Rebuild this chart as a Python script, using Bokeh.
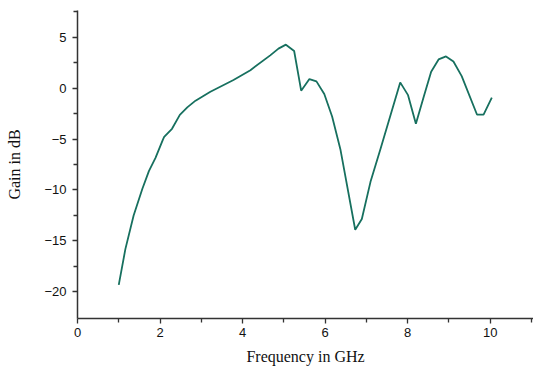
from bokeh.plotting import figure
from bokeh.models import Range1d, FixedTicker
from bokeh.embed import file_html
from bokeh.resources import INLINE

# Antenna gain versus frequency
freq_ghz = [1.00, 1.16, 1.36, 1.57, 1.73, 1.89, 2.07, 2.10, 2.29, 2.48, 2.66, 2.86,
            3.22, 3.78, 4.19, 4.67, 4.87, 5.05, 5.25, 5.42, 5.62, 5.79, 5.98, 6.17,
            6.37, 6.73, 6.89, 7.10, 7.34, 7.82, 8.01, 8.20, 8.39, 8.57, 8.75, 8.93,
            9.11, 9.31, 9.68, 9.84, 10.04]
gain_db = [-19.3, -15.8, -12.5, -9.9, -8.15, -6.85, -5.06, -4.8, -4.0, -2.63, -1.9, -1.24,
           -0.36, 0.78, 1.75, 3.2, 3.86, 4.25, 3.63, -0.26, 0.88, 0.65, -0.58, -2.8,
           -6.0, -13.9, -12.85, -9.2, -6.0, 0.55, -0.7, -3.5, -0.85, 1.6, 2.8, 3.1,
           2.6, 1.17, -2.6, -2.6, -0.94]

x_ticks = [0, 2, 4, 6, 8, 10]
x_minor = [1, 3, 5, 7, 9, 11]
y_ticks = [-20, -15, -10, -5, 0, 5]
y_minor = [-17.5, -12.5, -7.5, -2.5, 2.5, 7.5]

p = figure(width=533, height=367, output_backend="svg", toolbar_location=None,
           x_range=Range1d(0, 11.05), y_range=Range1d(-22.6, 7.6),
           min_border_left=77, min_border_right=0, min_border_top=10, min_border_bottom=47)
p.outline_line_color = None
p.xgrid.visible = False
p.ygrid.visible = False
p.background_fill_color = "white"
p.border_fill_color = "white"

p.line(freq_ghz, gain_db, line_color="#17705f", line_width=1.8)

for ax, major, minor in ((p.xaxis[0], x_ticks, x_minor), (p.yaxis[0], y_ticks, y_minor)):
    ax.ticker = FixedTicker(ticks=major, minor_ticks=minor)
    ax.axis_line_color = "#333333"
    ax.axis_line_width = 1.5
    ax.major_tick_line_color = "#333333"
    ax.minor_tick_line_color = "#333333"
    ax.major_tick_line_width = 1.3
    ax.minor_tick_line_width = 1.3
    ax.major_tick_out = 5
    ax.major_tick_in = 0
    ax.minor_tick_out = 4
    ax.minor_tick_in = 0
    ax.major_label_text_font = "Liberation Sans"
    ax.major_label_text_font_size = "13px"
    ax.major_label_text_color = "#111111"
    ax.axis_label_text_font = "Liberation Serif"
    ax.axis_label_text_font_size = "16px"
    ax.axis_label_text_font_style = "normal"
    ax.axis_label_text_color = "#111111"

p.xaxis.axis_label = "Frequency in GHz"
p.yaxis.axis_label = "Gain in dB"
p.xaxis.major_label_standoff = 4
p.yaxis.major_label_standoff = 6
p.xaxis.axis_label_standoff = 8
p.yaxis.axis_label_standoff = 18

open("out.html", "w").write(file_html(p, INLINE))
